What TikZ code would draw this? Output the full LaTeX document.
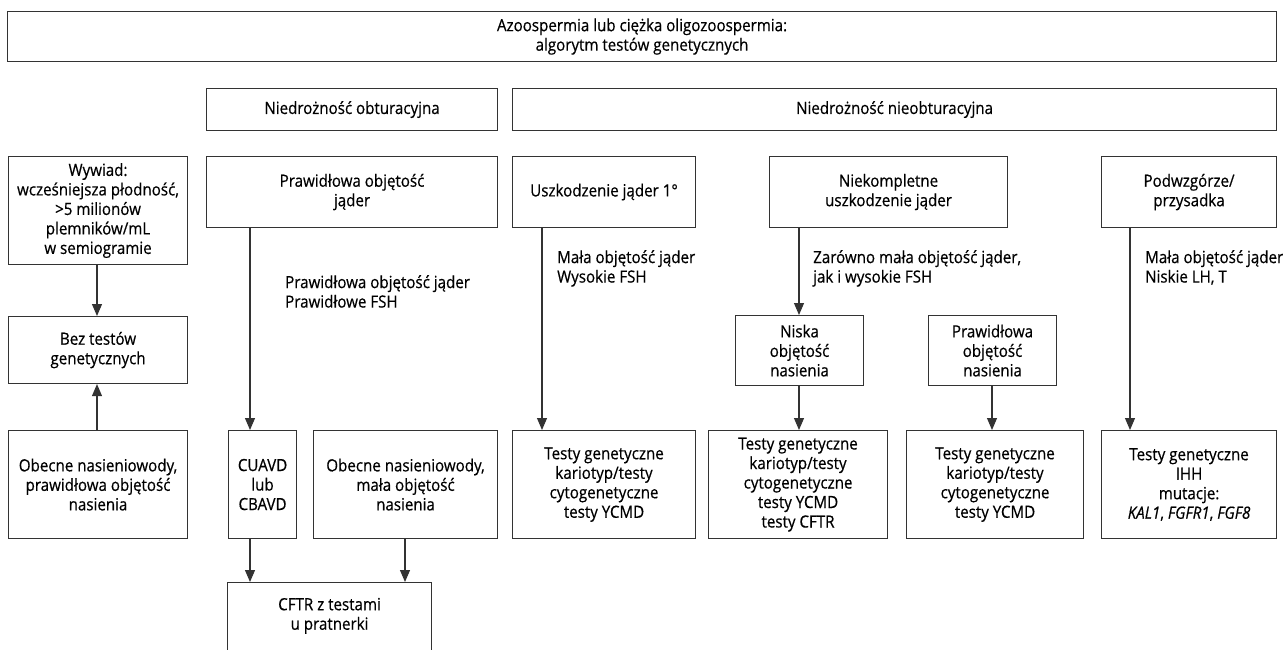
\documentclass[tikz,border=0pt]{standalone}
\usepackage{fontspec}
\setmainfont[FakeStretch=0.9,FakeBold=0.5]{Open Sans}
\usetikzlibrary{arrows.meta}
\begin{document}
\begin{tikzpicture}[x=1pt,y=-1pt,
  txt/.style={font=\fontsize{16.8}{19.5}\selectfont, text=black},
  box/.style={txt, draw=black!80, line width=1.1pt, anchor=north west,
    align=center, inner sep=0pt},
  lbl/.style={txt, anchor=north west, align=left, inner sep=0pt},
  arr/.style={draw=black!80, line width=1.1pt,
    -{Triangle[length=12pt,width=10pt]}}]
\useasboundingbox (0,0) rectangle (1283,650);

% header and the two main branches
\node[box, minimum width=1269, minimum height=50] (head) at (7,11)
  {Azoospermia lub ciężka oligozoospermia:\\algorytm testów genetycznych};
\node[box, minimum width=291, minimum height=42] (obs) at (206,88)
  {Niedrożność obturacyjna};
\node[box, minimum width=764, minimum height=42] (nobs) at (512,88)
  {Niedrożność nieobturacyjna};

% second row
\node[box, minimum width=179, minimum height=108] (wyw) at (8,156)
  {Wywiad:\\wcześniejsza płodność,\\>5 milionów\\plemników/mL\\w semiogramie};
\node[box, minimum width=291, minimum height=71] (pvol) at (206,156)
  {Prawidłowa objętość\\jąder};
\node[box, minimum width=183, minimum height=71] (usz) at (512,156)
  {Uszkodzenie jąder 1°};
\node[box, minimum width=238, minimum height=71] (niek) at (769,156)
  {Niekompletne\\uszkodzenie jąder};
\node[box, minimum width=175, minimum height=71] (podw) at (1101,156)
  {Podwzgórze/\\przysadka};

% middle row
\node[box, minimum width=179, minimum height=67] (bez) at (8,316)
  {Bez testów\\genetycznych};
\node[box, minimum width=128, minimum height=70] (nisk) at (735,315)
  {Niska\\objętość\\nasienia};
\node[box, minimum width=128, minimum height=70] (pnas) at (928,315)
  {Prawidłowa\\objętość\\nasienia};

% bottom row
\node[box, minimum width=179, minimum height=108] (obl) at (8,430)
  {Obecne nasieniowody,\\prawidłowa objętość\\nasienia};
\node[box, minimum width=68, minimum height=108] (cuavd) at (228,430)
  {CUAVD\\lub\\CBAVD};
\node[box, minimum width=184, minimum height=108] (obm) at (313,430)
  {Obecne nasieniowody,\\mała objętość\\nasienia};
\node[box, minimum width=183, minimum height=108] (t1) at (512,430)
  {Testy genetyczne\\kariotyp/testy\\cytogenetyczne\\testy YCMD};
\node[box, minimum width=179, minimum height=108] (t2) at (708,430)
  {Testy genetyczne\\kariotyp/testy\\cytogenetyczne\\testy YCMD\\testy CFTR};
\node[box, minimum width=177, minimum height=108] (t3) at (906,430)
  {Testy genetyczne\\kariotyp/testy\\cytogenetyczne\\testy YCMD};
\node[box, minimum width=175, minimum height=108] (ihh) at (1101,430)
  {Testy genetyczne\\IHH\\mutacje:\\\textit{KAL1}, \textit{FGFR1}, \textit{FGF8}};

% partner testing, running past the lower edge
\node[box, minimum width=204, minimum height=100] (cftr) at (227,582)
  {CFTR z testami\\u pratnerki\\[18pt]};

% condition labels beside the connectors
\node[lbl] (l1) at (285,275) {Prawidłowa objętość jąder\\Prawidłowe FSH};
\node[lbl] (l2) at (557,250) {Mała objętość jąder\\Wysokie FSH};
\node[lbl] (l3) at (813,250) {Zarówno mała objętość jąder,\\jak i wysokie FSH};
\node[lbl] (l4) at (1145,250) {Mała objętość jąder\\Niskie LH, T};

% connector columns
\coordinate (xa) at (97,0);
\coordinate (xb) at (250,0);
\coordinate (xc) at (405,0);
\coordinate (xd) at (542,0);
\coordinate (xe) at (799,0);
\coordinate (xf) at (992,0);
\coordinate (xg) at (1130,0);

\draw[arr] (wyw.south -| xa) -- (bez.north -| xa);
\draw[arr] (obl.north -| xa) -- (bez.south -| xa);
\draw[arr] (pvol.south -| xb) -- (cuavd.north -| xb);
\draw[arr] (cuavd.south -| xb) -- (cftr.north -| xb);
\draw[arr] (obm.south -| xc) -- (cftr.north -| xc);
\draw[arr] (usz.south -| xd) -- (t1.north -| xd);
\draw[arr] (niek.south -| xe) -- (nisk.north -| xe);
\draw[arr] (nisk.south -| xe) -- (t2.north -| xe);
\draw[arr] (pnas.south -| xf) -- (t3.north -| xf);
\draw[arr] (podw.south -| xg) -- (ihh.north -| xg);
\end{tikzpicture}
\end{document}
